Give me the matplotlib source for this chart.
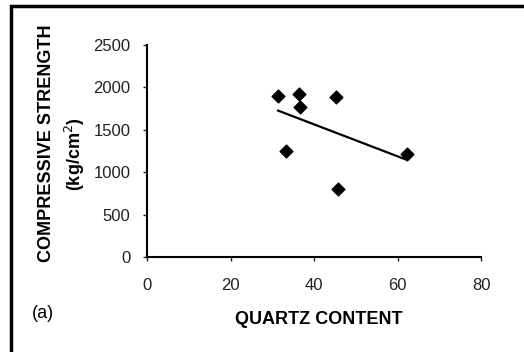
import numpy as np
import matplotlib.pyplot as plt
from matplotlib.patches import Rectangle

plt.rcParams['font.family'] = ['Liberation Sans', 'DejaVu Sans']

# valeurs
quartz = [31.4, 36.3, 36.6, 45.3, 33.3, 62.3, 45.7]
strength = [1900, 1920, 1765, 1885, 1255, 1215, 805]
x_ticks = [0, 20, 40, 60, 80]
y_ticks = [0, 500, 1000, 1500, 2000, 2500]

fig = plt.figure(figsize=(5.24, 3.52), dpi=100)
ax = fig.add_axes([147/524, 1 - 257/352, (481 - 147)/524, (257 - 45)/352])

ax.scatter(quartz, strength, marker='D', s=42, color='black', zorder=3)

# droite de regression
a, b = np.polyfit(quartz, strength, 1)
xs = np.array([min(quartz), max(quartz)])
ax.plot(xs, a * xs + b, color='black', lw=1.6)

ax.set_xlim(0, 80)
ax.set_ylim(0, 2500)
ax.set_xticks(x_ticks)
ax.set_yticks(y_ticks)
ax.tick_params(labelsize=12, length=3, width=1, colors='#222222')
ax.tick_params(axis='y', pad=9)
ax.tick_params(axis='x', pad=12)
for s in ['top', 'right']:
    ax.spines[s].set_visible(False)
ax.spines['left'].set_linewidth(1.5)
ax.spines['bottom'].set_linewidth(1.5)

fig.text(47/524, 1 - 143/352, 'COMPRESSIVE STRENGTH', rotation=90,
         ha='center', va='center', fontsize=13, fontweight='bold')
fig.text(75/524, 1 - 154/352, '(kg/cm$^2$)', rotation=90,
         ha='center', va='center', fontsize=13, fontweight='bold')
fig.text(319/524, 1 - 320/352, 'QUARTZ CONTENT', ha='center', va='center',
         fontsize=13, fontweight='bold')
fig.text(32/524, 1 - 314/352, '(a)', ha='left', va='center', fontsize=13)

# cadre exterieur
fig.patches.append(Rectangle((11/524, -0.05), 1.0, 1 - 6/352 + 0.05,
                             transform=fig.transFigure, fill=False,
                             edgecolor='black', lw=2.5))

fig.savefig('out.png', dpi=100)
